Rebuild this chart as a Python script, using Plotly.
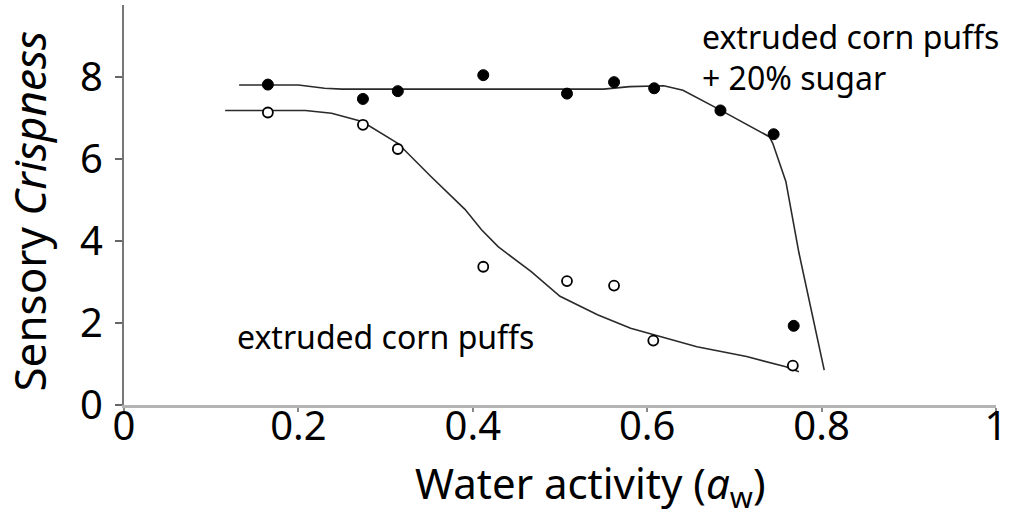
import plotly.graph_objects as go

# Measured sensory crispness vs water activity
aw_sugar = [0.165, 0.274, 0.314, 0.412, 0.508, 0.562, 0.608, 0.684, 0.745, 0.768]
crisp_sugar = [7.81, 7.46, 7.65, 8.04, 7.59, 7.87, 7.72, 7.18, 6.60, 1.93]

aw_plain = [0.165, 0.274, 0.314, 0.412, 0.508, 0.562, 0.607, 0.767]
crisp_plain = [7.13, 6.83, 6.24, 3.37, 3.02, 2.91, 1.57, 0.96]

# Fitted curves
fit_aw_sugar = [0.132, 0.20, 0.23, 0.25, 0.55, 0.58, 0.619, 0.641, 0.683,
                0.740, 0.744, 0.759, 0.774, 0.786, 0.803]
fit_crisp_sugar = [7.80, 7.80, 7.72, 7.70, 7.70, 7.76, 7.78, 7.67, 7.20,
                   6.54, 6.38, 5.45, 3.71, 2.56, 0.85]

fit_aw_plain = [0.116, 0.208, 0.238, 0.273, 0.314, 0.352, 0.391, 0.41, 0.429,
                0.467, 0.50, 0.543, 0.581, 0.657, 0.714, 0.759, 0.774]
fit_crisp_plain = [7.18, 7.18, 7.11, 6.91, 6.38, 5.57, 4.77, 4.27, 3.86,
                   3.25, 2.65, 2.20, 1.87, 1.42, 1.18, 0.93, 0.81]

x_ticks = [0, 0.2, 0.4, 0.6, 0.8, 1]
x_tick_text = ["0", "0.2", "0.4", "0.6", "0.8", "1"]
y_ticks = [0, 2, 4, 6, 8]

FONT = "Comic Sans MS, Noto Sans, sans-serif"

# plot area in pixels, used to place the axis titles
W, H = 1012, 517
L, R, T, B = 124, 11, 5, 112
PW, PH = W - L - R, H - T - B

fig = go.Figure()

fig.add_trace(go.Scatter(
    x=fit_aw_sugar, y=fit_crisp_sugar, mode="lines",
    line=dict(color="#2a2a2a", width=1.6), showlegend=False, hoverinfo="skip"))
fig.add_trace(go.Scatter(
    x=fit_aw_plain, y=fit_crisp_plain, mode="lines",
    line=dict(color="#2a2a2a", width=1.6), showlegend=False, hoverinfo="skip"))

fig.add_trace(go.Scatter(
    x=aw_sugar, y=crisp_sugar, mode="markers", name="extruded corn puffs + 20% sugar",
    marker=dict(symbol="circle", size=11, color="black", line=dict(color="black", width=1)),
    showlegend=False))
fig.add_trace(go.Scatter(
    x=aw_plain, y=crisp_plain, mode="markers", name="extruded corn puffs",
    marker=dict(symbol="circle", size=10, color="white", line=dict(color="black", width=1.8)),
    showlegend=False))

# Series labels
fig.add_annotation(x=0.127, y=1.66, xref="x", yref="y", text="extruded corn puffs",
                   showarrow=False, xanchor="left", yanchor="middle",
                   font=dict(family=FONT, size=32, color="black"))
fig.add_annotation(x=0.660, y=8.98, xref="x", yref="y", text="extruded corn puffs",
                   showarrow=False, xanchor="left", yanchor="middle",
                   font=dict(family=FONT, size=32, color="black"))
fig.add_annotation(x=0.660, y=7.98, xref="x", yref="y", text="+ 20% sugar",
                   showarrow=False, xanchor="left", yanchor="middle",
                   font=dict(family=FONT, size=32, color="black"))

# Axis titles
fig.add_annotation(x=(593 - L) / PW, y=-(485 - (H - B)) / PH,
                   xref="paper", yref="paper",
                   text="Water activity (<i>a</i><sub>w</sub>)",
                   showarrow=False, xanchor="center", yanchor="middle",
                   font=dict(family=FONT, size=42, color="black"))
fig.add_annotation(x=(28 - L) / PW, y=((H - B) - 211) / PH,
                   xref="paper", yref="paper",
                   text="Sensory <i>Crispness</i>", textangle=-90,
                   showarrow=False, xanchor="center", yanchor="middle",
                   font=dict(family=FONT, size=44, color="black"))

fig.update_layout(
    width=W, height=H,
    margin=dict(l=L, r=R, t=T, b=B),
    paper_bgcolor="white", plot_bgcolor="white",
    font=dict(family=FONT, color="black"),
    xaxis=dict(
        range=[0, 1], tickvals=x_ticks, ticktext=x_tick_text,
        showgrid=False, zeroline=False, showline=True,
        linecolor="#b4b4b4", linewidth=2.5,
        ticks="outside", ticklen=4, tickcolor="#888", tickwidth=1.5,
        ticklabelstandoff=-20, ticklabeloverflow="allow",
        tickfont=dict(family=FONT, size=40, color="black"),
    ),
    yaxis=dict(
        range=[0, 9.75], tickvals=y_ticks,
        showgrid=False, zeroline=False, showline=True,
        linecolor="#777", linewidth=2,
        ticks="outside", ticklen=7, tickcolor="#666", tickwidth=1.5,
        ticklabelstandoff=4,
        tickfont=dict(family=FONT, size=40, color="black"),
    ),
)

fig.write_html("out.html")
